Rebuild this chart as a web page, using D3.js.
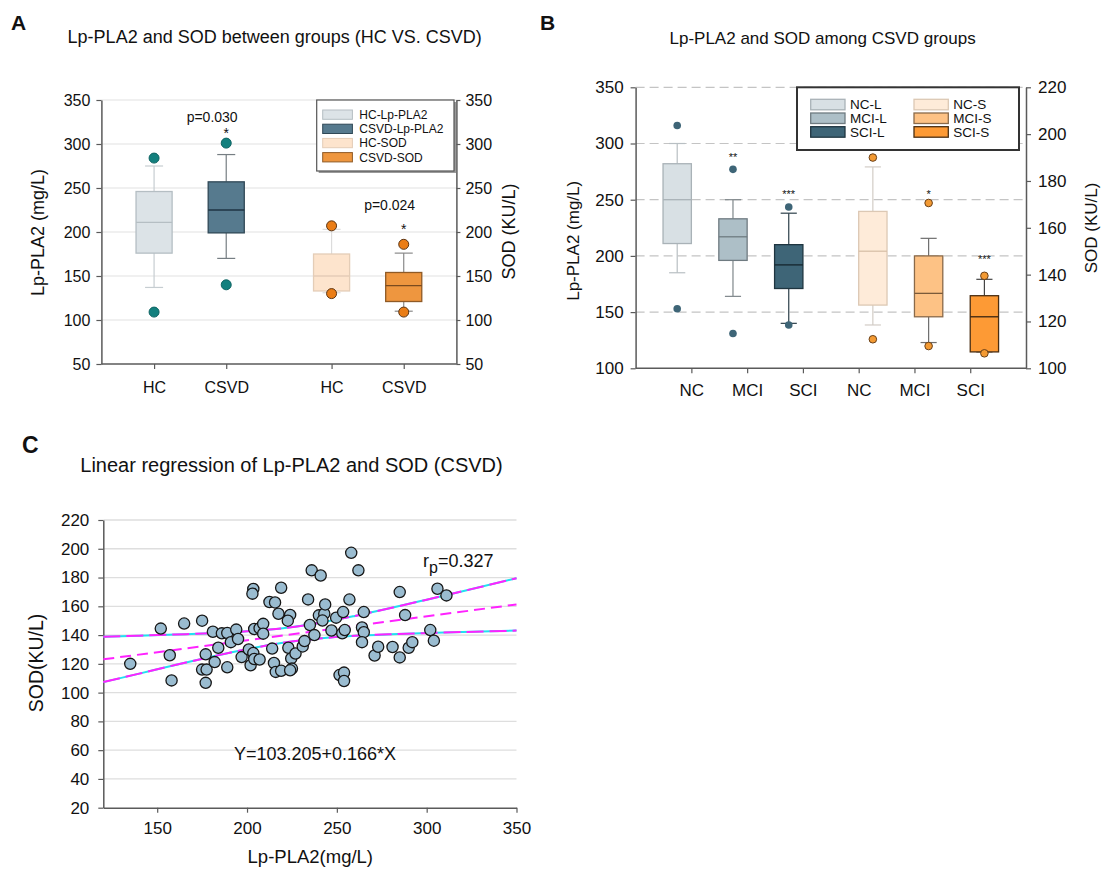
<!DOCTYPE html>
<html>
<head>
<meta charset="utf-8">
<script src="https://cdn.jsdelivr.net/npm/d3@7"></script>
<style>
  body { margin: 0; background: #fff; }
  svg { display: block; font-family: 'Liberation Sans', Arial, sans-serif; }
</style>
</head>
<body>
<div id="container"></div>
<script>
const w = 1101;
const h = 869;
const axisColor = '#5a5a5a';

// ---- Panel A data ----
const groupsA = ['Lp-PLA2', 'SOD'];
const catsA = ['HC', 'CSVD'];
const seriesA = ['HC-Lp-PLA2', 'CSVD-Lp-PLA2', 'HC-SOD', 'CSVD-SOD'];
// [whisker low, q1, median, q3, whisker high]
const statsA = [
  [137, 176, 211, 246, 275],
  [170, 199, 225, 257, 288],
  [131, 133, 150, 175, 203],
  [110, 121, 139, 154, 176]
];
const outliersA = [[284, 109], [301, 140], [207, 130], [186, 109]];
const ticksA = [50, 100, 150, 200, 250, 300, 350];
const pTextA = [{ group: 'Lp-PLA2', label: 'p=0.030', value: 325 }, { group: 'SOD', label: 'p=0.024', value: 225 }];
const starsA = [{ series: 'CSVD-Lp-PLA2', label: '*', value: 316 }, { series: 'CSVD-SOD', label: '*', value: 207 }];

// ---- Panel B data ----
const catsB = ['NC', 'MCI', 'SCI'];
const seriesB = ['NC-L', 'MCI-L', 'SCI-L', 'NC-S', 'MCI-S', 'SCI-S'];
const statsB = [
  [185, 211, 250, 282, 300],
  [164, 196, 217, 233, 250],
  [140, 171, 192, 210, 238],
  [118.5, 127, 150, 167, 186],
  [111, 122, 132, 148, 155.5],
  [107, 107, 122, 131, 138]
];
const outliersB = [[316, 153], [277, 131], [243.5, 138.5], [190, 112.4], [170.6, 109.5], [139.5, 106.4]];
const starsB = ['', '**', '***', '', '*', '***'];
const starValuesB = [0, 290, 257, 0, 175.4, 147.7];
const ticksBLeft = [100, 150, 200, 250, 300, 350];
const ticksBRight = [100, 120, 140, 160, 180, 200, 220];

// ---- Panel C data ----
const lpC = [135, 152, 157, 158, 165, 175, 175, 177.5, 177, 177, 181, 182, 186, 184, 189, 191, 189, 194, 195, 197,
             201, 202, 203.5, 203, 204, 207, 209, 209, 203.5, 204, 207, 212.5, 215.6, 217.5, 219, 214, 215, 216, 219, 224,
             222.7, 223, 224.6, 225, 224, 227, 231, 232, 234, 235, 236, 241, 237.5, 240, 243, 243.5, 242, 247, 249.6, 253.5,
             253, 254.4, 251.5, 254, 254, 257, 258, 262, 264, 265, 265, 264, 271, 273, 281, 285, 285, 288, 290, 292,
             302, 304, 306, 311];
const sodC = [120, 144.5, 126, 108.5, 148, 150, 116, 116, 126.6, 106.8, 142.3, 121.2, 141.2, 131.2, 141.4, 135.1, 117.6, 143.8, 137.3, 124.7,
              130, 119, 172.1, 168.8, 144.2, 144.8, 147.8, 141, 127.5, 123.4, 123, 163, 162.7, 154.8, 172.9, 130.6, 120.6, 114.4, 115.2, 154,
              150, 131.2, 123.8, 116.7, 115.5, 127.2, 132.1, 135.8, 164.8, 147, 185, 181.4, 140, 153.7, 154.9, 161.3, 150.1, 143.2, 152.1, 156,
              141.2, 143.5, 112.2, 113.9, 108.1, 164.7, 197.2, 185, 145.3, 156, 142, 135.1, 125.8, 131.9, 131.7, 169.9, 124.5, 153.9, 131.2, 135.1,
              143.5, 136.1, 172.2, 167.6];
const regIntercept = 103.205;
const regSlope = 0.166;
const bandX = [120, 140, 160, 180, 200, 220, 240, 260, 280, 300, 320, 350];
const bandUpper = [138.9, 139.6, 140.4, 141.3, 142.6, 144.8, 148.4, 153.3, 158.8, 164.6, 170.5, 179.5];
const bandLower = [107.3, 113.2, 119.2, 124.9, 130.2, 134.6, 137.6, 139.5, 140.6, 141.4, 142.1, 143.1];
const ticksCX = [150, 200, 250, 300, 350];
const ticksCY = [20, 40, 60, 80, 100, 120, 140, 160, 180, 200, 220];

// ---- Styles ----
const styleA = {
  'HC-Lp-PLA2':   { fill: '#dce3e7', stroke: '#b5bec3', med: '#b5bec3', whisk: '#c6cdd1', dot: '#13807e', dotStroke: '#0f6463' },
  'CSVD-Lp-PLA2': { fill: '#567a8e', stroke: '#2f4856', med: '#1f3543', whisk: '#767e83', dot: '#13807e', dotStroke: '#0f6463' },
  'HC-SOD':       { fill: '#fde4cd', stroke: '#e4cdb7', med: '#e4cdb7', whisk: '#dcdcdc', dot: '#ea7d16', dotStroke: '#5c3514' },
  'CSVD-SOD':     { fill: '#ee963f', stroke: '#8f5a26', med: '#7a4a1e', whisk: '#8a8a8a', dot: '#ea7d16', dotStroke: '#5c3514' }
};
const styleB = {
  'NC-L':  { fill: '#d8e0e4', stroke: '#a9b2b7', med: '#a9b2b7', whisk: '#b8bfc3', dot: '#3e6577', dotStroke: 'none' },
  'MCI-L': { fill: '#adbfc7', stroke: '#6f7b81', med: '#6f7b81', whisk: '#7f878b', dot: '#3e6577', dotStroke: 'none' },
  'SCI-L': { fill: '#3e6577', stroke: '#1f3540', med: '#15262e', whisk: '#2c3f49', dot: '#3e6577', dotStroke: 'none' },
  'NC-S':  { fill: '#feebd9', stroke: '#dcc8b4', med: '#d8c0a8', whisk: '#d2ccc6', dot: '#f39a33', dotStroke: '#6a4018' },
  'MCI-S': { fill: '#fdc285', stroke: '#8a6a4a', med: '#7a5a3a', whisk: '#6e6e6e', dot: '#f39a33', dotStroke: '#6a4018' },
  'SCI-S': { fill: '#fd9a35', stroke: '#4a2e12', med: '#3a2410', whisk: '#444', dot: '#f39a33', dotStroke: '#6a4018' }
};

const svg = d3.select('#container')
              .append('svg')
              .attr('width', w)
              .attr('height', h);

svg.append('rect').attr('width', w).attr('height', h).attr('fill', '#fff');

drawPanelA();
drawPanelB();
drawPanelC();

function styleAxis(g, fontSize) {
  g.selectAll('.domain').attr('stroke', axisColor).attr('stroke-width', 1.5);
  g.selectAll('.tick line').attr('stroke', axisColor).attr('stroke-width', 1.2);
  g.selectAll('.tick text')
   .attr('fill', '#111')
   .style('font-size', fontSize + 'px')
   .style('font-family', "'Liberation Sans', Arial, sans-serif");
}

function addText(x, y, txt, size, opts = {}) {
  const t = svg.append('text')
               .attr('x', x)
               .attr('y', y)
               .attr('text-anchor', opts.anchor || 'middle')
               .attr('fill', opts.fill || '#111')
               .style('font-size', size + 'px')
               .style('font-weight', opts.bold ? 'bold' : 'normal')
               .text(txt);
  if (opts.rotate) t.attr('transform', `rotate(-90, ${x}, ${y})`);
  return t;
}

// draws a box with whiskers, cap width and box width in px
function drawBox(g, cx, bw, capW, s, y, st) {
  const [lo, q1, med, q3, hi] = s;
  g.append('line').attr('x1', cx).attr('x2', cx).attr('y1', y(q3)).attr('y2', y(hi))
   .attr('stroke', st.whisk).attr('stroke-width', 1.2);
  g.append('line').attr('x1', cx).attr('x2', cx).attr('y1', y(q1)).attr('y2', y(lo))
   .attr('stroke', st.whisk).attr('stroke-width', 1.2);
  [lo, hi].forEach(v => {
    g.append('line').attr('x1', cx - capW / 2).attr('x2', cx + capW / 2)
     .attr('y1', y(v)).attr('y2', y(v))
     .attr('stroke', st.whisk).attr('stroke-width', 1.2);
  });
  g.append('rect')
   .attr('x', cx - bw / 2)
   .attr('y', y(q3))
   .attr('width', bw)
   .attr('height', y(q1) - y(q3))
   .attr('fill', st.fill)
   .attr('stroke', st.stroke)
   .attr('stroke-width', 1.3);
  g.append('line').attr('x1', cx - bw / 2).attr('x2', cx + bw / 2)
   .attr('y1', y(med)).attr('y2', y(med))
   .attr('stroke', st.med).attr('stroke-width', 1.3);
}

function drawPanelA() {
  const left = 101.4, right = 456.4, top = 100, bottom = 364;
  const y = d3.scaleLinear().domain([50, 350]).range([bottom, top]);
  const xGroup = d3.scaleBand().domain(groupsA).range([left, right]);
  const xCat = d3.scalePoint().domain(catsA).range([0, xGroup.bandwidth()]).padding(0.73);
  const bw = xCat.step() * 0.5;
  const cx = name => {
    const i = seriesA.indexOf(name);
    return xGroup(groupsA[Math.floor(i / 2)]) + xCat(catsA[i % 2]);
  };

  addText(11, 30, 'A', 21, { anchor: 'start', bold: true });
  addText(274.7, 43, 'Lp-PLA2 and SOD between groups (HC VS. CSVD)', 18);

  // gridlines
  svg.append('g')
     .selectAll('line')
     .data(ticksA.slice(1))
     .enter()
     .append('line')
     .attr('x1', left).attr('x2', right)
     .attr('y1', d => y(d)).attr('y2', d => y(d))
     .attr('stroke', '#e2e2e2').attr('stroke-width', 1.2);

  const gl = svg.append('g').attr('transform', `translate(${left},0)`)
                .call(d3.axisLeft(y).tickValues(ticksA).tickSize(5).tickPadding(6).tickSizeOuter(0));
  styleAxis(gl, 16);
  const gr = svg.append('g').attr('transform', `translate(${right},0)`)
                .call(d3.axisRight(y).tickValues(ticksA).tickSize(4).tickPadding(5).tickSizeOuter(0));
  styleAxis(gr, 16);

  svg.append('line').attr('x1', left).attr('x2', right).attr('y1', bottom).attr('y2', bottom)
     .attr('stroke', axisColor).attr('stroke-width', 1.5);
  groupsA.forEach(gName => {
    const gb = svg.append('g').attr('transform', `translate(${xGroup(gName)},${bottom})`)
                  .call(d3.axisBottom(xCat).tickSize(5).tickPadding(12.5).tickSizeOuter(0));
    gb.select('.domain').remove();
    styleAxis(gb, 16);
  });

  const boxes = svg.append('g');
  seriesA.forEach((name, i) => {
    drawBox(boxes, cx(name), bw, bw * 0.5, statsA[i], y, styleA[name]);
  });
  seriesA.forEach((name, i) => {
    boxes.selectAll(null)
         .data(outliersA[i])
         .enter()
         .append('circle')
         .attr('cx', cx(name))
         .attr('cy', d => y(d))
         .attr('r', 5)
         .attr('fill', styleA[name].dot)
         .attr('stroke', styleA[name].dotStroke)
         .attr('stroke-width', 1);
  });

  pTextA.forEach(p => {
    addText(xGroup(p.group) + xGroup.bandwidth() / 2 + 22, y(p.value), p.label, 14);
  });
  starsA.forEach(s => addText(cx(s.series), y(s.value) + 8, s.label, 14));

  addText(43.5, 232.5, 'Lp-PLA2 (mg/L)', 18, { rotate: true });
  addText(515, 231.5, 'SOD (KU/L)', 18, { rotate: true });

  // legend
  const lx = 316.7, ly = 100;
  svg.append('rect').attr('x', lx + 2).attr('y', ly + 2).attr('width', 137.3).attr('height', 71)
     .attr('fill', '#9a9a9a');
  svg.append('rect').attr('x', lx).attr('y', ly).attr('width', 137.3).attr('height', 71)
     .attr('fill', '#fff').attr('stroke', '#555').attr('stroke-width', 1.2);
  const items = svg.append('g')
                   .selectAll('g')
                   .data(seriesA)
                   .enter()
                   .append('g')
                   .attr('transform', (d, i) => `translate(${lx + 6}, ${ly + 10 + i * 14.2})`);
  items.append('rect')
       .attr('width', 29.7).attr('height', 9.3)
       .attr('fill', d => styleA[d].fill)
       .attr('stroke', d => styleA[d].stroke)
       .attr('stroke-width', 1);
  items.append('text')
       .attr('x', 36.6).attr('y', 9)
       .attr('fill', '#111')
       .style('font-size', '12px')
       .text(d => d);
}

function drawPanelB() {
  const left = 635.6, right = 1026, top = 87.3, bottom = 368.3;
  const yL = d3.scaleLinear().domain([100, 350]).range([bottom, top]);
  const yR = d3.scaleLinear().domain([100, 220]).range([bottom, top]);
  const x = d3.scalePoint().domain(seriesB).range([left, right]).padding(1);
  const bw = x.step() * 0.508;
  const cx = name => name.endsWith('-L') ? x(name) - bw / 2 : x(name) + bw / 2;
  const yFor = name => name.endsWith('-L') ? yL : yR;

  addText(540, 30, 'B', 21, { anchor: 'start', bold: true });
  addText(822.6, 44, 'Lp-PLA2 and SOD among CSVD groups', 17);

  svg.append('g')
     .selectAll('line')
     .data(ticksBLeft.slice(1))
     .enter()
     .append('line')
     .attr('x1', left).attr('x2', right)
     .attr('y1', d => yL(d)).attr('y2', d => yL(d))
     .attr('stroke', '#c4c4c4').attr('stroke-width', 1.2)
     .attr('stroke-dasharray', '9,5');

  const gl = svg.append('g').attr('transform', `translate(${left},0)`)
                .call(d3.axisLeft(yL).tickValues(ticksBLeft).tickSize(5).tickPadding(7).tickSizeOuter(0));
  styleAxis(gl, 17);
  const gr = svg.append('g').attr('transform', `translate(${right},0)`)
                .call(d3.axisRight(yR).tickValues(ticksBRight).tickSize(5).tickPadding(7).tickSizeOuter(0));
  styleAxis(gr, 17);
  const gb = svg.append('g').attr('transform', `translate(0,${bottom})`)
                .call(d3.axisBottom(x).tickSize(5).tickPadding(11).tickSizeOuter(0)
                        .tickFormat(d => d.split('-')[0]));
  gb.select('.domain').attr('d', `M${left},0H${right}`);
  styleAxis(gb, 17);

  const boxes = svg.append('g');
  seriesB.forEach((name, i) => {
    drawBox(boxes, cx(name), bw, bw * 0.57, statsB[i], yFor(name), styleB[name]);
  });
  seriesB.forEach((name, i) => {
    boxes.selectAll(null)
         .data(outliersB[i])
         .enter()
         .append('circle')
         .attr('cx', cx(name))
         .attr('cy', d => yFor(name)(d))
         .attr('r', 3.8)
         .attr('fill', styleB[name].dot)
         .attr('stroke', styleB[name].dotStroke)
         .attr('stroke-width', 1);
    if (starsB[i]) addText(cx(name), yFor(name)(starValuesB[i]) + 6, starsB[i], 11);
  });

  addText(579.2, 240.8, 'Lp-PLA2 (mg/L)', 17, { rotate: true });
  addText(1097, 228, 'SOD (KU/L)', 17, { rotate: true });

  // legend
  const lx = 797, ly = 87.3;
  svg.append('rect').attr('x', lx).attr('y', ly).attr('width', 222).attr('height', 62.7)
     .attr('fill', '#fff').attr('stroke', '#333').attr('stroke-width', 2);
  const items = svg.append('g')
                   .selectAll('g')
                   .data(seriesB)
                   .enter()
                   .append('g')
                   .attr('transform', (d, i) => `translate(${lx + 13.7 + Math.floor(i / 3) * 103.3}, ${ly + 12 + (i % 3) * 13.7})`);
  items.append('rect')
       .attr('width', 34.3).attr('height', 10.5)
       .attr('fill', d => styleB[d].fill)
       .attr('stroke', d => styleB[d].stroke)
       .attr('stroke-width', 1.3);
  items.append('text')
       .attr('x', 39.3).attr('y', 10)
       .attr('fill', '#111')
       .style('font-size', '13.5px')
       .text(d => d);
}

function drawPanelC() {
  const left = 103.3, right = 516.5, top = 520, bottom = 807.7;
  const x = d3.scaleLinear().domain([120, 350]).range([left, right]);
  const y = d3.scaleLinear().domain([20, 220]).range([bottom, top]);

  addText(22, 453, 'C', 23, { anchor: 'start', bold: true });
  addText(291.5, 471.7, 'Linear regression of Lp-PLA2 and SOD (CSVD)', 20);

  svg.append('g')
     .selectAll('line')
     .data(ticksCY.slice(1))
     .enter()
     .append('line')
     .attr('x1', left).attr('x2', right)
     .attr('y1', d => y(d)).attr('y2', d => y(d))
     .attr('stroke', '#dedede').attr('stroke-width', 1.3);

  const gl = svg.append('g').attr('transform', `translate(${left},0)`)
                .call(d3.axisLeft(y).tickValues(ticksCY).tickSize(5).tickPadding(9).tickSizeOuter(0));
  styleAxis(gl, 17);
  const gb = svg.append('g').attr('transform', `translate(0,${bottom})`)
                .call(d3.axisBottom(x).tickValues(ticksCX).tickSize(5).tickPadding(9).tickSizeOuter(0));
  styleAxis(gb, 17);

  const bandPts = (arr) => bandX.map((v, i) => [x(v), y(arr[i])]);
  const line = d3.line().curve(d3.curveMonotoneX);
  [bandUpper, bandLower].forEach(arr => {
    svg.append('path').attr('d', line(bandPts(arr)))
       .attr('fill', 'none').attr('stroke', '#22e0f0').attr('stroke-width', 2);
    svg.append('path').attr('d', line(bandPts(arr)))
       .attr('fill', 'none').attr('stroke', '#ff22ff').attr('stroke-width', 2)
       .attr('stroke-dasharray', '17,6');
  });
  const dom = x.domain();
  svg.append('path')
     .attr('d', line(dom.map(v => [x(v), y(regIntercept + regSlope * v)])))
     .attr('fill', 'none').attr('stroke', '#ff22ff').attr('stroke-width', 2)
     .attr('stroke-dasharray', '11,6');

  svg.append('g')
     .selectAll('circle')
     .data(lpC)
     .enter()
     .append('circle')
     .attr('cx', d => x(d))
     .attr('cy', (d, i) => y(sodC[i]))
     .attr('r', 5.6)
     .attr('fill', '#9abcd0')
     .attr('stroke', '#161616')
     .attr('stroke-width', 1.3);

  const rp = addText(423, 566.7, 'r', 18, { anchor: 'start' });
  rp.append('tspan').attr('dy', 6).style('font-size', '16px').text('p');
  rp.append('tspan').attr('dy', -6).text('=0.327');
  addText(315, 760, 'Y=103.205+0.166*X', 18);

  addText(310.3, 862.7, 'Lp-PLA2(mg/L)', 18.5);
  addText(43, 663, 'SOD(KU/L)', 19.5, { rotate: true });
}
</script>
</body>
</html>
